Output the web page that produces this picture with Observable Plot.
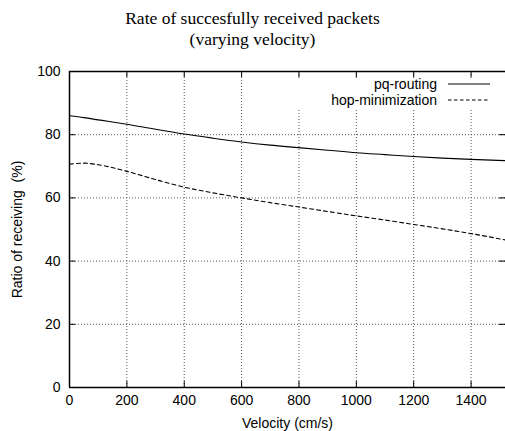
<!DOCTYPE html>
<html>
<head>
<meta charset="utf-8">
<script src="https://cdn.jsdelivr.net/npm/d3@7"></script>
<script src="https://cdn.jsdelivr.net/npm/@observablehq/plot@0.6"></script>
<style>
  html, body { margin: 0; padding: 0; background: #fff; }
  #wrap { position: relative; width: 505px; height: 431px; overflow: hidden; }
  #title { font-family: "Liberation Serif", "Times New Roman", serif; font-size: 17.5px; line-height: 21px;
           text-align: center; height: 50px; box-sizing: border-box; padding-top: 8px; color: #000; }
  #legend { position: absolute; left: 290px; top: 78px; width: 213px; height: 30px; background: #fff;
            font-family: "Liberation Sans", Arial, sans-serif; font-size: 14px; color: #000; }
  .row { position: absolute; right: 13px; height: 16px; display: flex; align-items: center; }
  .row span { margin-right: 11px; }
</style>
</head>
<body>
<div id="wrap">
  <div id="title">Rate of succesfully received packets<br>(varying velocity)</div>
  <div id="chart"></div>
  <div id="legend"></div>
</div>
<script>
const velocity = [0, 50, 100, 200, 300, 400, 500, 600, 700, 800, 900, 1000, 1100, 1200, 1300, 1400, 1520];
const pqRouting = [86.0, 85.4, 84.7, 83.3, 81.7, 80.2, 78.9, 77.7, 76.7, 75.9, 75.1, 74.3, 73.7, 73.1, 72.6, 72.2, 71.8];
const hopMinimization = [70.7, 71.0, 70.5, 68.4, 65.8, 63.4, 61.6, 60.0, 58.5, 57.1, 55.7, 54.3, 53.0, 51.6, 50.2, 48.7, 46.7];
const xTicks = [0, 200, 400, 600, 800, 1000, 1200, 1400];
const yTicks = [0, 20, 40, 60, 80, 100];
const seriesNames = ["pq-routing", "hop-minimization"];

const pq = velocity.map((v, i) => ({v, r: pqRouting[i]}));
const hop = velocity.map((v, i) => ({v, r: hopMinimization[i]}));

const xMax = 1520;
const tickLenY = 1.9;   // inward tick length in y units (~6px)
const tickLenX = 21;    // inward tick length in x units (~6px)

const gridX = xTicks.filter(d => d > 0);
const gridY = yTicks.filter(d => d > 0 && d < 100);

const chart = Plot.plot({
  width: 505,
  height: 381,
  marginTop: 21,
  marginBottom: 44,
  marginLeft: 69,
  marginRight: 0,
  style: {fontFamily: "'Liberation Sans', Arial, sans-serif", fontSize: "14px", color: "#000", background: "#fff"},
  x: {domain: [0, xMax], ticks: xTicks},
  y: {domain: [0, 100], ticks: yTicks},
  marks: [
    Plot.ruleX(gridX, {stroke: "#555", strokeDasharray: "1,2", strokeWidth: 1}),
    Plot.ruleY(gridY, {stroke: "#555", strokeDasharray: "1,2", strokeWidth: 1}),
    Plot.ruleX(xTicks, {y1: 0, y2: tickLenY, stroke: "#000"}),
    Plot.ruleX(xTicks, {y1: 100 - tickLenY, y2: 100, stroke: "#000"}),
    Plot.ruleY(yTicks, {x1: 0, x2: tickLenX, stroke: "#000"}),
    Plot.ruleY(yTicks, {x1: xMax - tickLenX, x2: xMax, stroke: "#000"}),
    Plot.line(pq, {x: "v", y: "r", stroke: "#000", strokeWidth: 1.1, curve: "monotone-x"}),
    Plot.line(hop, {x: "v", y: "r", stroke: "#000", strokeWidth: 1.1, strokeDasharray: "4,3", curve: "monotone-x"}),
    Plot.ruleY([0, 100], {stroke: "#000", strokeWidth: 1.5}),
    Plot.ruleX([0], {stroke: "#000", strokeWidth: 1.5}),
    Plot.axisX({ticks: xTicks, tickFormat: d => String(d), tickSize: 0, tickPadding: 8, label: "Velocity (cm/s)", labelAnchor: "center", labelArrow: "none", labelOffset: 40}),
    Plot.axisY({ticks: yTicks, tickFormat: d => String(d), tickSize: 0, tickPadding: 9, label: "Ratio of receiving\u00a0 (%)", labelAnchor: "center", labelArrow: "none", labelOffset: 57})
  ]
});
document.getElementById("chart").appendChild(chart);

// legend
const legend = document.getElementById("legend");
seriesNames.forEach((name, i) => {
  const row = document.createElement("div");
  row.className = "row";
  row.style.top = (i === 0 ? -2 : 14) + "px";
  const s = document.createElement("span");
  s.textContent = name;
  row.appendChild(s);
  const svgNS = "http://www.w3.org/2000/svg";
  const svg = document.createElementNS(svgNS, "svg");
  svg.setAttribute("width", "42");
  svg.setAttribute("height", "4");
  const ln = document.createElementNS(svgNS, "line");
  ln.setAttribute("x1", "0"); ln.setAttribute("x2", "42");
  ln.setAttribute("y1", "2"); ln.setAttribute("y2", "2");
  ln.setAttribute("stroke", "#000");
  ln.setAttribute("stroke-width", "1");
  if (i === 1) ln.setAttribute("stroke-dasharray", "3.5,2.5");
  svg.appendChild(ln);
  row.appendChild(svg);
  legend.appendChild(row);
});
</script>
</body>
</html>
